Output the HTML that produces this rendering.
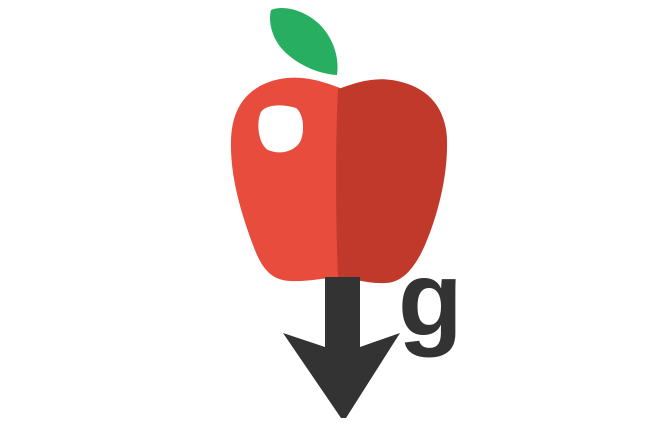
<!DOCTYPE html>
<html><head><meta charset="utf-8"><style>
html,body{margin:0;padding:0;background:#fff;}
svg{display:block;}
</style></head><body>
<svg width="668" height="430" viewBox="0 0 668 430" xmlns="http://www.w3.org/2000/svg">
  <path fill="#27ae60"
    d="M271,10 C285,4 312,12 326,32 C336,46 339,62 337,75 C318,74 296,64 283,50 C272,38 268,22 271,10 Z"/>
  <path fill="#e74c3c"
    d="M340,88 C320,80 300,75 280,79 C250,85 232,105 231,140 C230,175 240,210 253,245 C262,270 272,280 290,281 C310,282 325,277 340,278 Z"/>
  <path fill="#c0392b"
    d="M338,89 C355,83 372,77 392,80 C425,85 446,105 447,140 C448,175 438,215 425,245 C415,268 402,283 385,283 C365,284 350,277 338,278 C336,230 335,150 338,89 Z"/>
  <path fill="#ffffff"
    d="M261,112 C266,104 284,104 296,108 C304,114 305,132 300,142 C294,152 279,155 268,150 C258,144 256,122 261,112 Z"/>
  <rect x="325" y="277" width="35" height="75" fill="#333333"/>
  <path fill="#333333"
    d="M283,333 L325,347 L360,347 L400,333 L346,418 L341,418 Z"/>
  <text x="398" y="335" font-family="Liberation Sans, sans-serif" font-weight="bold" font-size="106" fill="#333333">g</text>
</svg>
</body></html>
